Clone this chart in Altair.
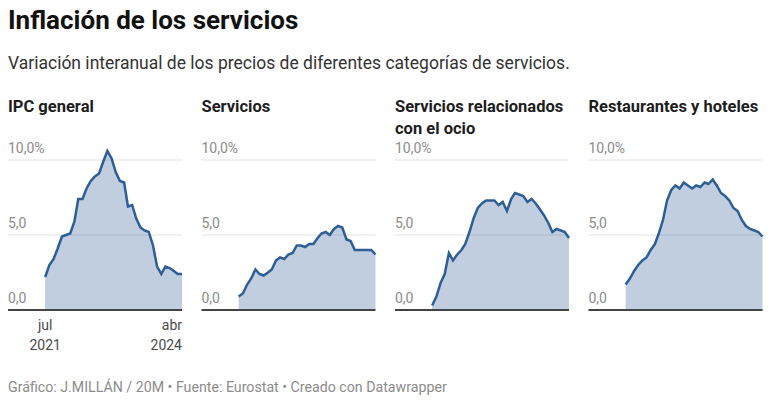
import altair as alt
import pandas as pd

# ---------------- data ----------------
months = [
    "2021-07-01", "2021-08-01", "2021-09-01", "2021-10-01", "2021-11-01", "2021-12-01",
    "2022-01-01", "2022-02-01", "2022-03-01", "2022-04-01", "2022-05-01", "2022-06-01",
    "2022-07-01", "2022-08-01", "2022-09-01", "2022-10-01", "2022-11-01", "2022-12-01",
    "2023-01-01", "2023-02-01", "2023-03-01", "2023-04-01", "2023-05-01", "2023-06-01",
    "2023-07-01", "2023-08-01", "2023-09-01", "2023-10-01", "2023-11-01", "2023-12-01",
    "2024-01-01", "2024-02-01", "2024-03-01", "2024-04-01",
]
ipc_general = [2.2, 3.0, 3.4, 4.1, 4.9, 5.0, 5.1, 5.9, 7.4, 7.4, 8.1, 8.6, 8.9, 9.1, 9.9, 10.6, 10.1,
               9.2, 8.6, 8.5, 6.9, 7.0, 6.1, 5.5, 5.3, 5.2, 4.3, 2.9, 2.4, 2.9, 2.8, 2.6, 2.4, 2.4]
servicios = [0.9, 1.1, 1.7, 2.1, 2.7, 2.4, 2.3, 2.5, 2.7, 3.3, 3.5, 3.4, 3.7, 3.8, 4.3, 4.3, 4.2,
             4.4, 4.4, 4.8, 5.1, 5.2, 5.0, 5.4, 5.6, 5.5, 4.7, 4.6, 4.0, 4.0, 4.0, 4.0, 4.0, 3.7]
ocio = [0.3, 0.9, 1.8, 2.4, 3.8, 3.3, 3.7, 4.0, 4.4, 5.2, 6.1, 6.8, 7.1, 7.3, 7.3, 7.3, 7.0,
        7.2, 6.6, 7.4, 7.8, 7.7, 7.6, 7.2, 7.4, 7.1, 6.7, 6.3, 5.8, 5.2, 5.4, 5.3, 5.2, 4.8]
restaurantes = [1.7, 2.1, 2.6, 3.0, 3.3, 3.5, 4.0, 4.4, 5.1, 6.0, 7.3, 8.0, 8.3, 8.1, 8.5, 8.3, 8.1,
                8.3, 8.2, 8.5, 8.4, 8.7, 8.3, 7.8, 7.6, 7.3, 6.8, 6.6, 6.0, 5.6, 5.4, 5.3, 5.2, 4.9]

series = [ipc_general, servicios, ocio, restaurantes]
panel_titles = ["IPC general", "Servicios", "Servicios relacionados\ncon el ocio",
                "Restaurantes y hoteles"]

y_ticks = [0, 5, 10]
y_tick_labels = ["0,0", "5,0", "10,0%"]
x_tick_dates = ["2021-07-01", "2024-04-01"]
x_tick_labels = ["jul\n2021", "abr\n2024"]

title_text = "Inflación de los servicios"
subtitle_text = "Variación interanual de los precios de diferentes categorías de servicios."
footer_text = "Gráfico: J.MILLÁN / 20M • Fuente: Eurostat • Creado con Datawrapper"

# ---------------- style ----------------
W, H = 174, 150
FONT = "Roboto"
LINE = "#2e5e96"

xscale = alt.Scale(
    type="utc",
    domain=[alt.DateTime(year=2020, month=10, date=1, utc=True),
            alt.DateTime(year=2024, month=4, date=1, utc=True)],
)
yscale = alt.Scale(domain=[0, 10], nice=False, zero=True)


def panel(i, values):
    df = pd.DataFrame({"date": months, "v": values})
    x = alt.X("date:T", scale=xscale, axis=None)
    y = alt.Y("v:Q", scale=yscale, axis=None)

    gdf = pd.DataFrame({"t": y_ticks, "lab": y_tick_labels})
    grid = alt.Chart(gdf).transform_filter("datum.t > 0").mark_rule(
        color="#e3e3e3", strokeWidth=1
    ).encode(y=alt.Y("t:Q", scale=yscale, axis=None), x=alt.value(0), x2=alt.value(W))

    area = alt.Chart(df).mark_area(color=LINE, fillOpacity=0.3).encode(x=x, y=y)
    line = alt.Chart(df).mark_line(color=LINE, strokeWidth=2.5).encode(x=x, y=y)

    base0 = alt.Chart(gdf).transform_filter("datum.t == 0").mark_rule(
        color="#444444", strokeWidth=2
    ).encode(y=alt.Y("t:Q", scale=yscale, axis=None), x=alt.value(0), x2=alt.value(W))

    ylab = alt.Chart(gdf).mark_text(
        align="left", baseline="alphabetic", dy=-7, font=FONT, fontSize=14, color="#8c8c8c"
    ).encode(y=alt.Y("t:Q", scale=yscale, axis=None), x=alt.value(0), text="lab:N")

    ptitle = alt.Chart(pd.DataFrame({"t": [panel_titles[i]]})).mark_text(
        align="left", baseline="top", lineBreak="\n", lineHeight=22, font=FONT,
        fontSize=16.5, fontWeight="bold", color="#1d1d1d"
    ).encode(x=alt.value(0), y=alt.value(-61), text="t:N")

    layers = [grid, area, line, base0, ylab, ptitle]

    if i == 0:
        xl1 = alt.Chart(pd.DataFrame({"d": [x_tick_dates[0]], "lab": [x_tick_labels[0]]})).mark_text(
            align="center", baseline="top", lineBreak="\n", lineHeight=20, font=FONT,
            fontSize=14, color="#4a4a4a"
        ).encode(x=alt.X("d:T", scale=xscale, axis=None), y=alt.value(H + 9), text="lab:N")
        xl2 = alt.Chart(pd.DataFrame({"d": [x_tick_dates[1]], "lab": [x_tick_labels[1]]})).mark_text(
            align="right", baseline="top", lineBreak="\n", lineHeight=20, font=FONT,
            fontSize=14, color="#4a4a4a"
        ).encode(x=alt.X("d:T", scale=xscale, axis=None), y=alt.value(H + 9), text="lab:N")
        ttl = alt.Chart(pd.DataFrame({"t": [title_text]})).mark_text(
            align="left", baseline="top", font=FONT, fontSize=26, fontWeight="bold", color="#111111"
        ).encode(x=alt.value(0), y=alt.value(-152), text="t:N")
        sub = alt.Chart(pd.DataFrame({"t": [subtitle_text]})).mark_text(
            align="left", baseline="top", font=FONT, fontSize=17.5, color="#333333"
        ).encode(x=alt.value(0), y=alt.value(-105), text="t:N")
        foot = alt.Chart(pd.DataFrame({"t": [footer_text]})).mark_text(
            align="left", baseline="alphabetic", font=FONT, fontSize=14.2, color="#8c8c8c"
        ).encode(x=alt.value(0), y=alt.value(H + 82), text="t:N")
        layers += [xl1, xl2, ttl, sub, foot]

    return alt.layer(*layers).properties(width=W, height=H)


panels = [panel(i, s) for i, s in enumerate(series)]

chart = alt.hconcat(*panels, spacing=19.5, bounds="flush").configure_view(
    stroke=None
).properties(
    padding={"left": 7, "top": 8, "right": 0, "bottom": 5},
    background="white",
)

chart.save("out.html", embed_options={"renderer": "svg", "actions": False})
